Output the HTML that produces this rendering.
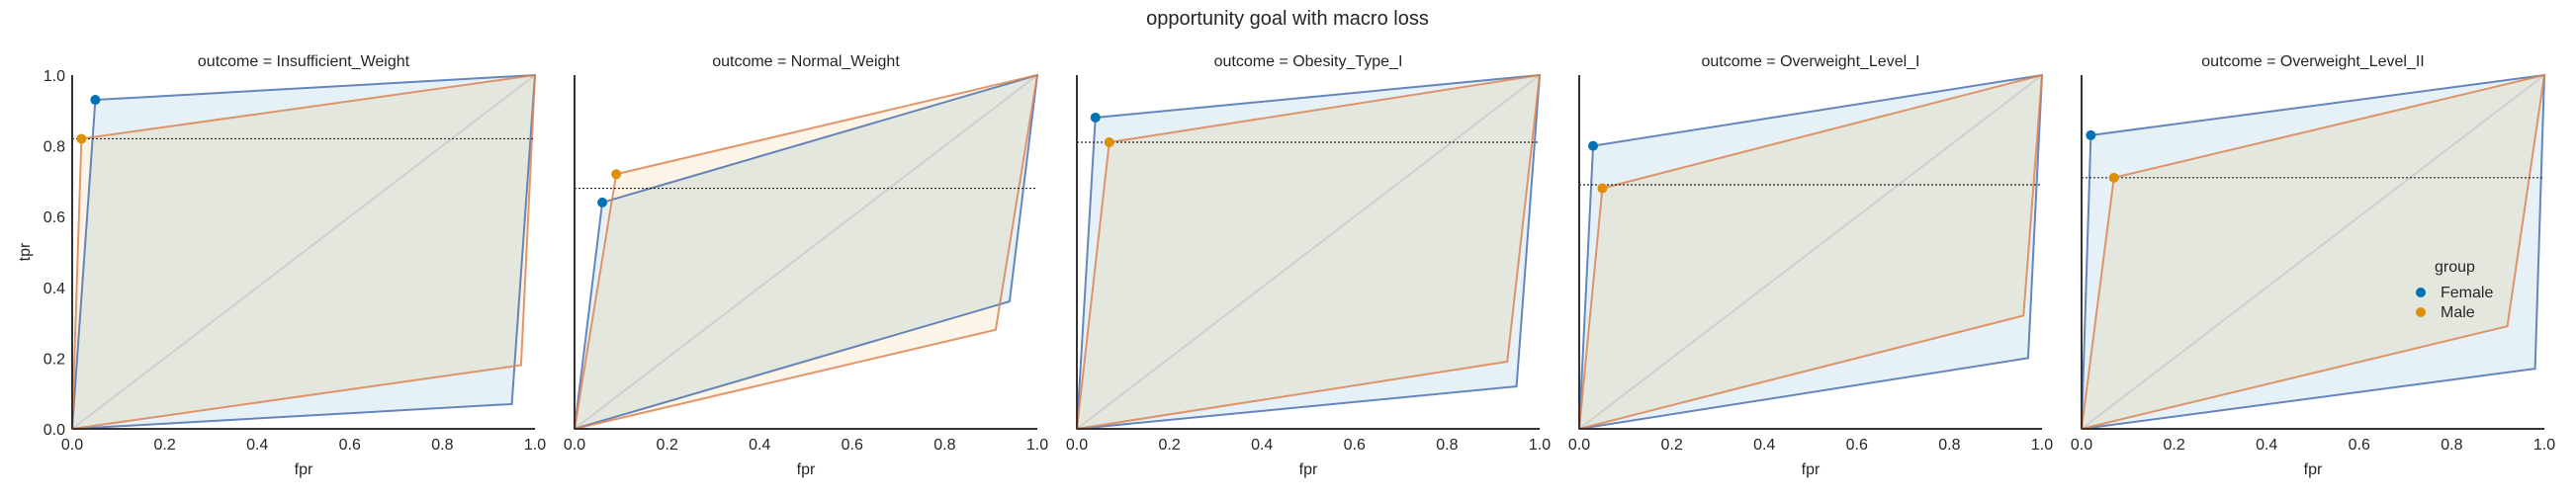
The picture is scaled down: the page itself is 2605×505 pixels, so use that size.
<!DOCTYPE html>
<html><head><meta charset="utf-8"><style>
body{margin:0;background:#fff;}
svg text{font-family:"Liberation Sans",sans-serif;fill:#262626;}
</style></head><body>
<svg id="chart" width="2605" height="500" xmlns="http://www.w3.org/2000/svg">
<text x="1302" y="25" font-size="20" text-anchor="middle">opportunity goal with macro loss</text>
<g id="panels"></g>
<g>
<text x="2462" y="275" font-size="16">group</text>
<circle cx="2448" cy="296" r="5" fill="#0173b2"/>
<text x="2468" y="301" font-size="16">Female</text>
<circle cx="2448" cy="316" r="5" fill="#de8f05"/>
<text x="2468" y="321" font-size="16">Male</text>
</g>
</svg>
<script>
const outcomes=["Insufficient_Weight","Normal_Weight","Obesity_Type_I","Overweight_Level_I","Overweight_Level_II"];
const femaleFpr=[0.05,0.06,0.04,0.03,0.02];
const femaleTpr=[0.93,0.64,0.88,0.80,0.83];
const maleFpr=[0.02,0.09,0.07,0.05,0.07];
const maleTpr=[0.82,0.72,0.81,0.68,0.71];
const femaleLowFpr=[0.95,0.94,0.95,0.97,0.98];
const femaleLowTpr=[0.07,0.36,0.12,0.20,0.17];
const maleLowFpr=[0.97,0.91,0.93,0.96,0.92];
const maleLowTpr=[0.18,0.28,0.19,0.32,0.29];
const targetTpr=[0.82,0.68,0.81,0.69,0.71];
const ticks=[0,0.2,0.4,0.6,0.8,1.0];
const tickLabels=["0.0","0.2","0.4","0.6","0.8","1.0"];

const NS="http://www.w3.org/2000/svg";
const g=document.getElementById("panels");
const W=468,H=358,T=76;
function mk(tag,attrs,parent){const e=document.createElementNS(NS,tag);for(const k in attrs)e.setAttribute(k,attrs[k]);parent.appendChild(e);return e;}
outcomes.forEach((o,i)=>{
  const L=73+i*508;
  const X=v=>L+v*W, Y=v=>T+(1-v)*H;
  const p=mk("g",{},g);
  
  
  const t=mk("text",{x:L+W/2,y:67,"font-size":16,"text-anchor":"middle"},p);t.textContent="outcome = "+o;
  
  
  const polys=[[femaleFpr,femaleTpr,femaleLowFpr,femaleLowTpr,"#4c72b0","rgba(1,115,178,0.1)","female"],[maleFpr,maleTpr,maleLowFpr,maleLowTpr,"#dd8452","rgba(222,143,5,0.1)","male"]];
  polys.forEach(s=>{
    const pts=[[0,0],[s[0][i],s[1][i]],[1,1],[s[2][i],s[3][i]]].map(q=>X(q[0])+","+Y(q[1])).join(" ");
    const pg=mk("polygon",{points:pts,fill:s[5],stroke:"none"},p);
    
    
  });
  const d=mk("line",{x1:X(0),y1:Y(0),x2:X(1),y2:Y(1),stroke:"#cfcfcf","stroke-width":2},p);
  
  
  polys.forEach(s=>{
    const pts=[[0,0],[s[0][i],s[1][i]],[1,1],[s[2][i],s[3][i]]].map(q=>X(q[0])+","+Y(q[1])).join(" ");
    const pl=mk("polygon",{points:pts,fill:"none",stroke:s[4],"stroke-width":2,"stroke-opacity":0.85},p);
    
    
  });
  const h=mk("line",{x1:X(0),y1:Y(targetTpr[i]),x2:X(1),y2:Y(targetTpr[i]),stroke:"#222","stroke-width":1.2,"stroke-dasharray":"2,2"},p);
  
  
  const c1=mk("circle",{cx:X(femaleFpr[i]),cy:Y(femaleTpr[i]),r:5,fill:"#0173b2"},p);
  
  
  const c2=mk("circle",{cx:X(maleFpr[i]),cy:Y(maleTpr[i]),r:5,fill:"#de8f05"},p);
  
  
  const ya=mk("line",{x1:L,y1:T,x2:L,y2:T+H,stroke:"#333","stroke-width":2},p);
  
  
  const xa=mk("line",{x1:L,y1:T+H,x2:L+W,y2:T+H,stroke:"#333","stroke-width":2},p);
  
  
  ticks.forEach((v,k)=>{
    const tx=mk("text",{x:X(v),y:T+H+21,"font-size":16,"text-anchor":"middle"},p);tx.textContent=tickLabels[k];
    
    
    if(i===0){
      const ty=mk("text",{x:L-7,y:Y(v)+6,"font-size":16,"text-anchor":"end"},p);ty.textContent=tickLabels[k];
      
      
    }
  });
  const xl=mk("text",{x:L+W/2,y:480,"font-size":16,"text-anchor":"middle"},p);xl.textContent="fpr";
  
  
  if(i===0){
    const yl=mk("text",{x:0,y:0,"font-size":16,"text-anchor":"middle",transform:"translate(30,"+(T+H/2)+") rotate(-90)"},p);yl.textContent="tpr";
    
    
  }
});
</script>
</body></html>
